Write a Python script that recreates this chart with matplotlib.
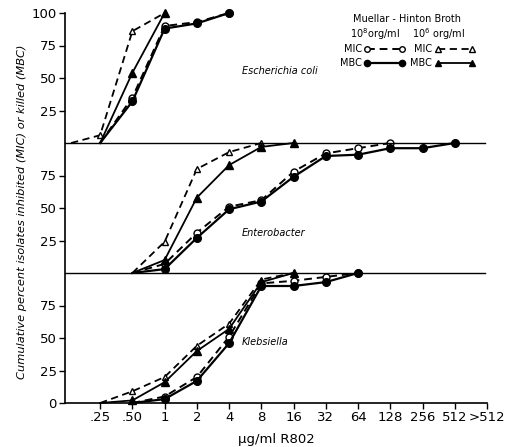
import numpy as np
import matplotlib
matplotlib.use('Agg')
import matplotlib.pyplot as plt
from matplotlib.lines import Line2D

# concentration categories (ug/ml R802)
conc = ['.25', '.50', '1', '2', '4', '8', '16', '32', '64', '128', '256', '512', '>512']

# Escherichia coli
ecoli_mic8_x = [0, 1, 2, 3, 4]
ecoli_mic8 = [0, 35, 90, 93, 100]
ecoli_mbc8_x = [0, 1, 2, 3, 4]
ecoli_mbc8 = [0, 32, 88, 92, 100]
ecoli_mic6_x = [-0.9, 0, 1, 2]
ecoli_mic6 = [0, 6, 86, 100]
ecoli_mbc6_x = [0, 1, 2]
ecoli_mbc6 = [0, 54, 100]

# Enterobacter
entero_mic8_x = [1, 2, 3, 4, 5, 6, 7, 8, 9]
entero_mic8 = [0, 7, 31, 51, 56, 78, 92, 96, 100]
entero_mbc8_x = [1, 2, 3, 4, 5, 6, 7, 8, 9, 10, 11]
entero_mbc8 = [0, 3, 27, 49, 55, 74, 90, 91, 96, 96, 100]
entero_mic6_x = [1, 2, 3, 4, 5]
entero_mic6 = [0, 24, 80, 93, 100]
entero_mbc6_x = [1, 2, 3, 4, 5, 6]
entero_mbc6 = [0, 10, 58, 83, 97, 100]

# Klebsiella
kleb_mic8_x = [1, 2, 3, 4, 5, 6, 7, 8]
kleb_mic8 = [0, 5, 20, 51, 92, 94, 97, 100]
kleb_mbc8_x = [1, 2, 3, 4, 5, 6, 7, 8]
kleb_mbc8 = [0, 3, 17, 46, 90, 90, 93, 100]
kleb_mic6_x = [0, 1, 2, 3, 4, 5, 6]
kleb_mic6 = [0, 9, 20, 44, 61, 95, 100]
kleb_mbc6_x = [0, 1, 2, 3, 4, 5, 6]
kleb_mbc6 = [0, 2, 16, 40, 57, 93, 100]

panels = [
    ('Escherichia coli', 200, [(ecoli_mic8_x, ecoli_mic8), (ecoli_mbc8_x, ecoli_mbc8),
                               (ecoli_mic6_x, ecoli_mic6), (ecoli_mbc6_x, ecoli_mbc6)]),
    ('Enterobacter', 100, [(entero_mic8_x, entero_mic8), (entero_mbc8_x, entero_mbc8),
                           (entero_mic6_x, entero_mic6), (entero_mbc6_x, entero_mbc6)]),
    ('Klebsiella', 0, [(kleb_mic8_x, kleb_mic8), (kleb_mbc8_x, kleb_mbc8),
                       (kleb_mic6_x, kleb_mic6), (kleb_mbc6_x, kleb_mbc6)]),
]

styles = [
    dict(ls=(0, (4, 2.5)), marker='o', mfc='white', lw=1.4, ms=5),   # MIC 10^8
    dict(ls='-', marker='o', mfc='black', lw=1.6, ms=5.5),           # MBC 10^8
    dict(ls=(0, (4, 2.5)), marker='^', mfc='white', lw=1.3, ms=5),   # MIC 10^6
    dict(ls='-', marker='^', mfc='black', lw=1.3, ms=5.5),           # MBC 10^6
]

fig = plt.figure(figsize=(5.13, 4.47), dpi=100)
ax = fig.add_axes([65 / 513, 44 / 447, 422 / 513, 390 / 447])

label_pos = {'Escherichia coli': 255, 'Enterobacter': 131, 'Klebsiella': 47}
for name, off, series in panels:
    for (xs, ys), st in zip(series, styles):
        # the zero starting point carries no marker
        ax.plot(xs, np.array(ys) + off, color='black', mec='black', mew=1.0, clip_on=False,
                markevery=list(range(1, len(xs))), **st)
    ax.text(4.4, label_pos[name], name, style='italic', fontsize=7, ha='left', va='center')

for yy in (100, 200):
    ax.plot([-1.09, 11.95], [yy, yy], color='black', lw=1.0, clip_on=False)

ax.set_xlim(-1.09, 12)
ax.set_ylim(0, 300)
ax.set_xticks(np.arange(len(conc)))
ax.set_xticklabels(conc, fontsize=9.5)
yt = [0, 25, 50, 75, 125, 150, 175, 225, 250, 275, 300]
ax.set_yticks(yt)
ax.set_yticklabels(['0', '25', '50', '75', '25', '50', '75', '25', '50', '75', '100'], fontsize=9.5)
ax.tick_params(direction='out', length=4, width=1, pad=2)
for s in ('top', 'right'):
    ax.spines[s].set_visible(False)
for s in ('left', 'bottom'):
    ax.spines[s].set_linewidth(1.2)

ax.set_xlabel('\u03bcg/ml R802', fontsize=9.5, labelpad=6)
fig.text(22 / 513, 1 - 212 / 447, 'Cumulative percent isolates inhibited (MIC) or killed (MBC)',
         rotation=90, style='italic', fontsize=8.2, ha='center', va='center')

# legend
def fx(px):
    return px / 513

def fy(py):
    return 1 - py / 447

fig.text(fx(407), fy(19), 'Muellar - Hinton Broth', fontsize=7, ha='center', va='center')
fig.text(fx(375), fy(34), '10$^8$org/ml', fontsize=7, ha='center', va='center')
fig.text(fx(438), fy(34), '10$^6$ org/ml', fontsize=7, ha='center', va='center')
fig.text(fx(362), fy(49), 'MIC', fontsize=7, ha='right', va='center')
fig.text(fx(362), fy(63), 'MBC', fontsize=7, ha='right', va='center')
fig.text(fx(432), fy(49), 'MIC', fontsize=7, ha='right', va='center')
fig.text(fx(432), fy(63), 'MBC', fontsize=7, ha='right', va='center')
leg = [((367, 402), 49, styles[0]), ((367, 402), 63, styles[1]),
       ((438, 472), 49, styles[2]), ((438, 472), 63, styles[3])]
for (x0, x1), py, st in leg:
    st2 = dict(st)
    st2['ms'] = st['ms'] - 1
    fig.add_artist(Line2D([fx(x0), fx(x1)], [fy(py), fy(py)], color='black', mec='black',
                          mew=1.0, transform=fig.transFigure, **st2))

fig.savefig('out.png', dpi=100)
